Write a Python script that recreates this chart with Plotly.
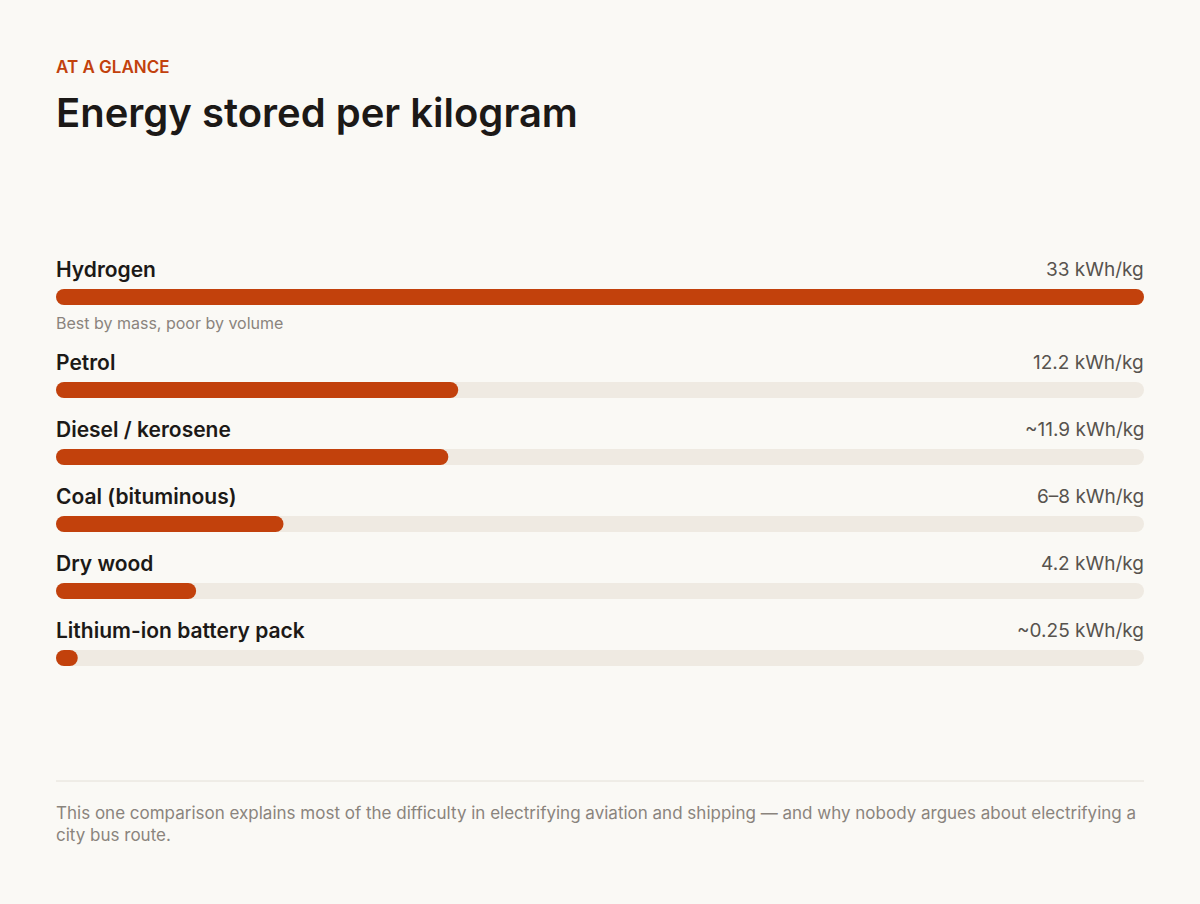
import plotly.graph_objects as go

# Energy density by mass, kWh/kg (coal, the label gives a range)
fuels = ["Hydrogen", "Petrol", "Diesel / kerosene", "Coal (bituminous)", "Dry wood", "Lithium-ion battery pack"]
values = [33, 12.2, 11.9, 6.9, 4.25, 0.25]
value_labels = ["33 kWh/kg", "12.2 kWh/kg", "~11.9 kWh/kg", "6–8 kWh/kg", "4.2 kWh/kg", "~0.25 kWh/kg"]
notes = ["Best by mass, poor by volume", "", "", "", "", ""]

ORANGE = "#C2410C"
TRACK = "#EFEAE2"
BG = "#FAF9F5"
INK = "#1C1917"
MUTED = "#57534E"
SOFT = "#8A847D"
FONT = "Inter"

xmax = max(values)
# tiny values still get a visible pill
shown = [max(v, xmax * 0.02) for v in values]

# row layout in pixels (y axis runs in page pixels, top down)
bar_y = []
y = 297
for i in range(len(fuels)):
    bar_y.append(y)
    y += 67 + (26 if notes[i] else 0)

fig = go.Figure()

# explicit base=0 makes plotly round all four corners -> pill shape
fig.add_bar(x=[xmax] * len(fuels), base=[0] * len(fuels), y=bar_y, orientation="h", width=16,
            marker=dict(color=TRACK, cornerradius=8, line_width=0), hoverinfo="skip")
fig.add_bar(x=shown, base=[0] * len(fuels), y=bar_y, orientation="h", width=16,
            marker=dict(color=ORANGE, cornerradius=8, line_width=0), hoverinfo="skip")


def left_text(y, text, size, color, weight=400):
    return dict(x=0, y=y, xref="paper", yref="y", text=text, showarrow=False, xshift=-2,
                xanchor="left", yanchor="middle", align="left",
                font=dict(family=FONT, size=size, color=color, weight=weight))


ann = []
for i, name in enumerate(fuels):
    ann.append(left_text(bar_y[i] - 28, name, 21, INK, 600))
    ann.append(dict(x=1, y=bar_y[i] - 28, xref="paper", yref="y", text=value_labels[i],
                    showarrow=False, xanchor="right", yanchor="middle", xshift=2,
                    font=dict(family=FONT, size=19, color=MUTED)))
    if notes[i]:
        ann.append(left_text(bar_y[i] + 26, notes[i], 16, SOFT))

ann.append(left_text(67, "AT A GLANCE", 17, ORANGE, 600))
ann.append(left_text(112, "Energy stored per kilogram", 40, INK, 600))
ann.append(left_text(824, "This one comparison explains most of the difficulty in electrifying aviation and "
                          "shipping — and why nobody argues about electrifying a<br>city bus route.",
                     17, SOFT))

fig.update_layout(
    width=1200, height=904,
    margin=dict(l=56, r=56, t=0, b=0),
    paper_bgcolor=BG, plot_bgcolor=BG,
    barmode="overlay",
    showlegend=False,
    annotations=ann,
    shapes=[dict(type="line", xref="paper", yref="y", x0=0, x1=1, y0=781, y1=781,
                 line=dict(color="#E4E0D8", width=1))],
    xaxis=dict(range=[0, xmax], visible=False, fixedrange=True),
    yaxis=dict(range=[904, 0], visible=False, fixedrange=True),
)

fig.write_html("out.html", config={"displayModeBar": False},
               post_script="document.body.style.margin='0';document.body.style.background='%s';" % BG)
